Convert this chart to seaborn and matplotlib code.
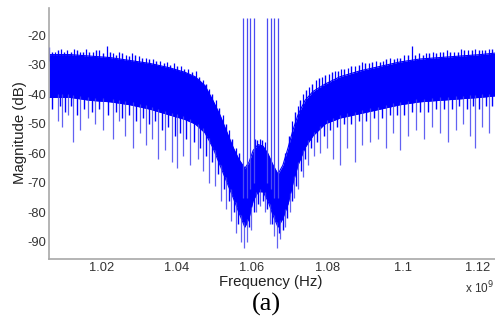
import numpy as np
import matplotlib
matplotlib.use("Agg")
import matplotlib.pyplot as plt
import seaborn as sns
import pandas as pd
from matplotlib.ticker import FuncFormatter

# ---- data (frequency in GHz, magnitude in dB) ----
env_freq_ghz = [1.0061, 1.0117, 1.0170, 1.0223, 1.0276, 1.0329, 1.0382, 1.0422,
                1.0449, 1.0475, 1.0496, 1.0515, 1.0534, 1.0550, 1.0565, 1.0581,
                1.0592, 1.0603, 1.0616, 1.0629, 1.0642, 1.0656, 1.0669, 1.0682,
                1.0696, 1.0709, 1.0722, 1.0741, 1.0762, 1.0794, 1.0834, 1.0887,
                1.0940, 1.0993, 1.1046, 1.1099, 1.1152, 1.1206, 1.1245]
env_top_db = [-26.5, -26.5, -27, -27.5, -28.5, -29.5, -31, -32.5,
              -34, -37, -42, -47, -53, -58, -62, -65,
              -63, -59, -57, -57.5, -60, -64, -67, -64,
              -58, -52, -47, -42, -39, -36.5, -34, -32,
              -30.5, -29, -28, -27.5, -27, -26.5, -26]
env_bottom_db = [-41, -41, -42, -42.5, -43.5, -45, -47, -48.5,
                 -50, -53, -58, -64, -70, -75, -80, -85,
                 -82, -76, -73, -73, -76, -81, -85, -82,
                 -77, -70, -64, -58, -54, -50, -48, -46.5,
                 -45, -43.5, -42.5, -42, -41.5, -41, -40.5]

peak_freq_ghz = [1.0061, 1.0077, 1.0093, 1.0109, 1.0127, 1.0143, 1.0159, 1.0178,
                 1.0194, 1.0215, 1.0231, 1.0247, 1.0265, 1.0281, 1.0300, 1.0318,
                 1.0337, 1.0356, 1.0374, 1.0393, 1.0411, 1.0430, 1.0451, 1.0470,
                 1.0486, 1.0504, 1.0523, 1.0539, 1.0557, 1.0608, 1.0621, 1.0634,
                 1.0688, 1.0706, 1.0722, 1.0735, 1.0751, 1.0770, 1.0786, 1.0804,
                 1.0820, 1.0836, 1.0855, 1.0874, 1.0892, 1.0911, 1.0930, 1.0948,
                 1.0967, 1.0985, 1.1004, 1.1025, 1.1044, 1.1062, 1.1081, 1.1099,
                 1.1118, 1.1136, 1.1155, 1.1174, 1.1193, 1.1211, 1.1230]
peak_db = [-24, -25.5, -24.5, -25, -24.5, -25.5, -24.5, -25.5,
           -25, -23.5, -26, -25.5, -26.5, -26, -27, -27.5,
           -28, -28.5, -29, -29.5, -30.5, -31.5, -32, -35,
           -38, -42, -47, -52, -58, -55, -55, -56,
           -60, -49, -44, -40, -37.5, -35, -34, -33,
           -32, -31.5, -31, -30.5, -29, -29.5, -28.5, -28.5,
           -27.5, -27.5, -26.5, -23.5, -26, -26, -25.5, -25.5,
           -25, -25.5, -24.5, -25, -24.5, -25, -24.5]

# smaller peaks in between (ragged top edge)
peak2_freq_ghz = [1.0069, 1.0085, 1.0101, 1.0118, 1.0135, 1.0151, 1.0168, 1.0186,
                  1.0204, 1.0223, 1.0239, 1.0256, 1.0273, 1.0290, 1.0309, 1.0327,
                  1.0346, 1.0365, 1.0383, 1.0402, 1.0420, 1.0440, 1.0460, 1.0478,
                  1.0495, 1.0513, 1.0531, 1.0548, 1.0566, 1.0614, 1.0627, 1.0697,
                  1.0714, 1.0728, 1.0743, 1.0760, 1.0778, 1.0795, 1.0812, 1.0828,
                  1.0845, 1.0864, 1.0883, 1.0901, 1.0920, 1.0939, 1.0957, 1.0976,
                  1.0994, 1.1014, 1.1034, 1.1053, 1.1071, 1.1090, 1.1108, 1.1127,
                  1.1146, 1.1164, 1.1183, 1.1202, 1.1220, 1.1238]
peak2_db = [-25.5, -25, -25.5, -25.5, -25, -25.5, -25.5, -25,
            -26, -25.5, -26.5, -26, -27, -26.5, -27.5, -28,
            -28.5, -29.5, -30, -30.5, -31.5, -32.5, -34, -36.5,
            -40, -44.5, -50, -55, -60, -55.5, -55.5, -54,
            -46, -42, -38.5, -36.5, -34.5, -33.5, -32.5, -32,
            -31.5, -30.5, -30, -29.5, -29, -29, -28, -28,
            -27.5, -26.5, -26.5, -26.5, -26, -26, -25.5, -25.5,
            -25.5, -25, -25, -25, -25, -24.5]

dip_freq_ghz = [1.0085, 1.0096, 1.0111, 1.0125, 1.0143, 1.0165, 1.0183, 1.0204,
                1.0231, 1.0247, 1.0263, 1.0284, 1.0303, 1.0319, 1.0334, 1.0350,
                1.0369, 1.0388, 1.0401, 1.0417, 1.0435, 1.0457, 1.0470, 1.0486,
                1.0502, 1.0518, 1.0531, 1.0544, 1.0557, 1.0571, 1.0579, 1.0587,
                1.0597, 1.0611, 1.0621, 1.0634, 1.0648, 1.0659, 1.0667, 1.0675,
                1.0688, 1.0701, 1.0712, 1.0722, 1.0735, 1.0749, 1.0765, 1.0781,
                1.0799, 1.0815, 1.0834, 1.0853, 1.0874, 1.0892, 1.0914, 1.0935,
                1.0956, 1.0975, 1.0993, 1.1014, 1.1036, 1.1057, 1.1078, 1.1099,
                1.1120, 1.1142, 1.1160, 1.1179, 1.1193, 1.1211, 1.1230]
dip_db = [-49, -51, -47, -56, -52, -48, -50, -52,
          -55, -49, -54, -58, -53, -57, -55, -62,
          -59, -63, -65, -61, -64, -62, -66, -70,
          -71, -76, -79, -83, -87, -90, -92, -90,
          -86, -80, -78, -80, -84, -88, -92, -89,
          -85, -80, -75, -72, -68, -64, -61, -60,
          -58, -62, -64, -58, -63, -57, -56, -55,
          -58, -53, -59, -54, -52, -55, -51, -53,
          -56, -52, -50, -54, -58, -51, -53]

# shallower dips in between (ragged lower edge)
dip2_freq_ghz = [1.0070, 1.0090, 1.0104, 1.0118, 1.0134, 1.0154, 1.0174, 1.0194,
                 1.0217, 1.0239, 1.0255, 1.0273, 1.0293, 1.0311, 1.0327, 1.0342,
                 1.0360, 1.0378, 1.0395, 1.0409, 1.0426, 1.0446, 1.0463, 1.0478,
                 1.0494, 1.0510, 1.0525, 1.0538, 1.0551, 1.0564, 1.0592, 1.0604,
                 1.0616, 1.0628, 1.0641, 1.0654, 1.0671, 1.0682, 1.0694, 1.0707,
                 1.0717, 1.0729, 1.0742, 1.0757, 1.0773, 1.0790, 1.0807, 1.0825,
                 1.0844, 1.0864, 1.0883, 1.0903, 1.0925, 1.0946, 1.0966, 1.0984,
                 1.1004, 1.1025, 1.1047, 1.1068, 1.1089, 1.1110, 1.1131, 1.1151,
                 1.1170, 1.1186, 1.1202, 1.1221, 1.1238]
dip2_db = [-45, -44, -46, -44, -47, -45, -46, -45,
           -47, -46, -48, -47, -49, -48, -50, -49,
           -52, -51, -54, -53, -55, -56, -58, -61,
           -63, -67, -72, -76, -80, -84, -85, -80,
           -77, -76, -79, -84, -87, -86, -82, -76,
           -71, -66, -62, -58, -56, -54, -52, -51,
           -50, -50, -49, -49, -48, -48, -47, -47,
           -47, -46, -46, -46, -45, -45, -45, -44,
           -45, -44, -45, -44, -44]

tone_freq_ghz = [1.0576, 1.0587, 1.0595, 1.0606, 1.0640, 1.0651, 1.0659, 1.0669]
tone_top_db = [-14.2, -14.2, -14.2, -14.2, -14.2, -14.2, -14.2, -14.2]
tone_base_db = [-75, -75, -72, -70, -70, -72, -75, -75]

xtick_ghz = [1.02, 1.04, 1.06, 1.08, 1.1, 1.12]
ytick_db = [-90, -80, -70, -60, -50, -40, -30, -20]

# ---- figure ----
sns.set_style("white")
plt.rcParams['font.family'] = ['Liberation Sans', 'DejaVu Sans']
plt.rcParams['axes.unicode_minus'] = False

W, H = 495, 320
fig = plt.figure(figsize=(W / 100, H / 100), dpi=100)
ax = fig.add_axes([49 / W, (H - 259) / H, 446 / W, 251 / H])

blue = '#0000ff'
env = pd.DataFrame({'f': np.array(env_freq_ghz) * 1e9,
                    'top': env_top_db, 'bottom': env_bottom_db})
ef = env['f'].to_numpy()
etop = env['top'].to_numpy()
ebot = env['bottom'].to_numpy()

ax.fill_between(ef, ebot, etop, color=blue, lw=0)
sns.lineplot(data=env, x='f', y='top', color=blue, lw=0.8, ax=ax)
sns.lineplot(data=env, x='f', y='bottom', color=blue, lw=0.8, ax=ax)

# shallower dips: same dense blue, make the lower edge ragged
d2 = np.array(dip2_freq_ghz) * 1e9
ax.vlines(d2, dip2_db, np.interp(d2, ef, ebot) + 2, color=blue, lw=1.0)
# deep dips (lighter streaks below the dense band)
d1 = np.array(dip_freq_ghz) * 1e9
ax.vlines(d1, dip_db, np.interp(d1, ef, ebot) + 1,
          color='#4646f0', lw=0.9, alpha=0.85)
# peaks above the dense band
p1 = np.array(peak_freq_ghz) * 1e9
ax.vlines(p1, np.interp(p1, ef, etop) - 2, peak_db, color=blue, lw=0.9)
p2 = np.array(peak2_freq_ghz) * 1e9
ax.vlines(p2, np.interp(p2, ef, etop) - 2, peak2_db, color=blue, lw=1.0)
# tones
tf = np.array(tone_freq_ghz) * 1e9
ax.vlines(tf, tone_base_db, tone_top_db, color='#4a4af2', lw=0.9)

ax.set_xlim(1.00608e9, 1.12454e9)
ax.set_ylim(-95.8, -10.7)
ax.set_xticks(np.array(xtick_ghz) * 1e9)
ax.set_yticks(ytick_db)
ax.xaxis.set_major_formatter(FuncFormatter(lambda v, p: f"{v / 1e9:g}"))

for s in ['top', 'right']:
    ax.spines[s].set_visible(False)
for s in ['left', 'bottom']:
    ax.spines[s].set_color('#a8a8a8')
    ax.spines[s].set_linewidth(1.2)
ax.tick_params(direction='in', length=3, width=1, color='#a8a8a8',
               labelsize=9.3, labelcolor='#333333')
ax.tick_params(axis='y', pad=2)
ax.tick_params(axis='x', pad=2.5)

ax.set_xlabel('Frequency (Hz)', fontsize=10.8, color='#222222')
ax.set_ylabel('Magnitude (dB)', fontsize=10.8, color='#222222')
ax.xaxis.set_label_coords((271 - 49) / 446, (259 - 275) / 251)
ax.yaxis.set_label_coords((27 - 49) / 446, (259 - 133) / 251)

fig.text(465 / W, 1 - 288 / H, r'x 10$^9$', fontsize=8.5, color='#333333',
         ha='left', va='center')
fig.text(266 / W, 1 - 304 / H, '(a)', fontsize=19, family='Liberation Serif',
         ha='center', va='center', color='black')

fig.savefig('out.png', dpi=100)
